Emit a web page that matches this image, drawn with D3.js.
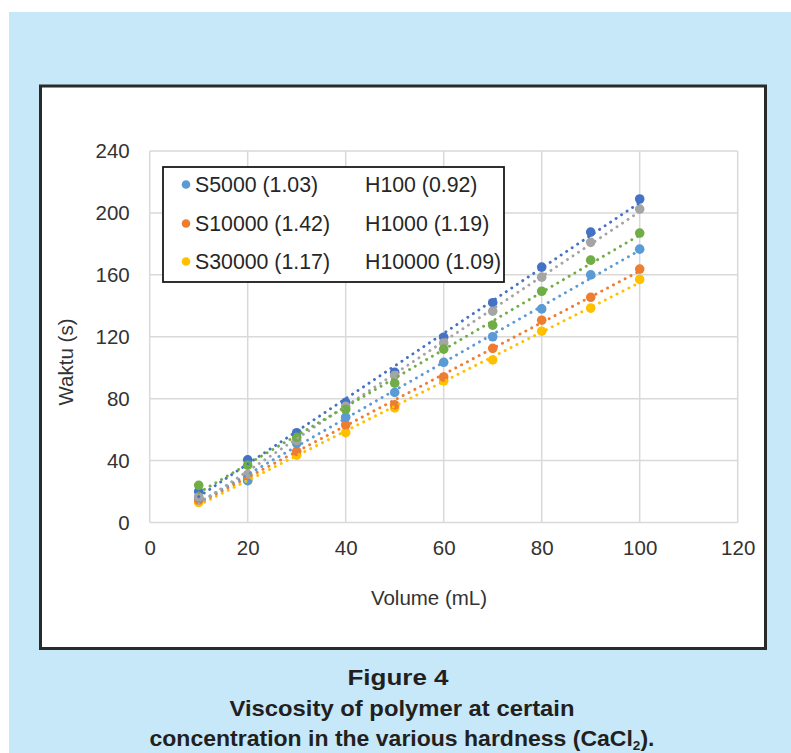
<!DOCTYPE html>
<html>
<head>
<meta charset="utf-8">
<script src="https://cdn.jsdelivr.net/npm/d3@7"></script>
<style>
html,body{margin:0;padding:0;background:#fff;}
svg{display:block;font-family:"Liberation Sans",Arial,sans-serif;}
</style>
</head>
<body>
<svg id="chart" width="791" height="753"></svg>
<script>
const volume = [10, 20, 30, 40, 50, 60, 70, 80, 90, 100];
const s5000  = [16, 27, 51, 68, 84, 103.5, 120, 138, 160, 176.6];
const s10000 = [14.5, 29, 46, 63, 76, 94, 112.5, 130.7, 145.5, 163.7];
const s30000 = [13, 27, 43.5, 58, 74, 91.5, 105, 123.6, 138.5, 157];
const h100   = [16.5, 31, 53, 75, 95, 116, 136.5, 158.5, 181, 202.5];
const h1000  = [20, 40.5, 58, 77.6, 97, 119.7, 142, 165, 187.6, 209];
const h10000 = [24, 37, 55, 73, 90, 112, 127.5, 149.4, 169.5, 187];

const seriesNames = ["S30000 (1.17)", "S10000 (1.42)", "S5000 (1.03)", "H1000 (1.19)", "H100 (0.92)", "H10000 (1.09)"];
const seriesValues = [s30000, s10000, s5000, h1000, h100, h10000];
const seriesColors = ["#FFC000", "#ED7D31", "#5B9BD5", "#4472C4", "#A5A5A5", "#70AD47"];

const legendLeft = ["S5000 (1.03)", "S10000 (1.42)", "S30000 (1.17)"];
const legendLeftColors = ["#5B9BD5", "#ED7D31", "#FFC000"];
const legendRight = ["H100 (0.92)", "H1000 (1.19)", "H10000 (1.09)"];

const xTicks = [0, 20, 40, 60, 80, 100, 120];
const yTicks = [0, 40, 80, 120, 160, 200, 240];

const captionLines = ["Figure 4", "Viscosity of polymer at certain"];

const svg = d3.select("#chart");

// background panel
svg.append("rect").attr("x", 9).attr("y", 12).attr("width", 791 - 9).attr("height", 753 - 12).attr("fill", "#C6E8F9");
svg.append("rect").attr("x", 40.5).attr("y", 86).attr("width", 725).attr("height", 562.5)
  .attr("fill", "#fff").attr("stroke", "#2a2a2a").attr("stroke-width", 3);

const x = d3.scaleLinear().domain([0, 120]).range([149.7, 737.7]);
const y = d3.scaleLinear().domain([0, 240]).range([522.5, 151]);

// gridlines
const g = svg.append("g");
g.selectAll(".vg").data(xTicks).join("line")
  .attr("x1", d => x(d)).attr("x2", d => x(d)).attr("y1", y(240)).attr("y2", y(0))
  .attr("stroke", "#D9D9D9").attr("stroke-width", 1.5);
g.selectAll(".hg").data(yTicks).join("line")
  .attr("x1", x(0)).attr("x2", x(120)).attr("y1", d => y(d)).attr("y2", d => y(d))
  .attr("stroke", "#D9D9D9").attr("stroke-width", 1.5);

// axes
const xAxis = d3.axisBottom(x).tickValues(xTicks).tickSize(0).tickPadding(18);
const yAxis = d3.axisLeft(y).tickValues(yTicks).tickSize(0).tickPadding(20);
const gx = svg.append("g").attr("transform", `translate(0,${y(0)})`).call(xAxis);
const gy = svg.append("g").attr("transform", `translate(${x(0)},0)`).call(yAxis);
[gx, gy].forEach(a => {
  a.select(".domain").remove();
  a.selectAll("text").attr("font-size", 20.5).attr("fill", "#333333").attr("font-family", '"Liberation Sans",Arial,sans-serif');
});

// axis titles
svg.append("text").attr("x", x(57)).attr("y", 605).attr("text-anchor", "middle")
  .attr("font-size", 20.5).attr("fill", "#333333").text("Volume (mL)");
svg.append("text").attr("transform", "translate(73,362) rotate(-90)").attr("text-anchor", "middle")
  .attr("font-size", 20.5).attr("fill", "#333333").text("Waktu (s)");

// trendlines (least squares fit of each series)
function fit(xs, ys) {
  const mx = d3.mean(xs), my = d3.mean(ys);
  let sxy = 0, sxx = 0;
  xs.forEach((v, i) => { sxy += (v - mx) * (ys[i] - my); sxx += (v - mx) * (v - mx); });
  const b = sxy / sxx;
  return { a: my - b * mx, b };
}
const xMin = d3.min(volume), xMax = d3.max(volume);

seriesValues.forEach((vals, si) => {
  const col = seriesColors[si];
  svg.append("g").selectAll("circle").data(vals).join("circle")
    .attr("cx", (d, i) => x(volume[i])).attr("cy", d => y(d)).attr("r", 4.8)
    .attr("fill", col);
});
seriesValues.forEach((vals, si) => {
  const col = seriesColors[si];
  const f = fit(volume, vals);
  svg.append("line")
    .attr("x1", x(xMin)).attr("y1", y(f.a + f.b * xMin))
    .attr("x2", x(xMax)).attr("y2", y(f.a + f.b * xMax))
    .attr("stroke", col).attr("stroke-width", 2.9)
    .attr("stroke-linecap", "round").attr("stroke-dasharray", "0.1 6.5");
});

// legend
const lg = svg.append("g");
lg.append("rect").attr("x", 163).attr("y", 167).attr("width", 341).attr("height", 115)
  .attr("fill", "#fff").attr("stroke", "#1a1a1a").attr("stroke-width", 1.8);
const rowY = [184.5, 223.5, 261.5];
legendLeft.forEach((t, i) => {
  lg.append("circle").attr("cx", 186).attr("cy", rowY[i]).attr("r", 4.3).attr("fill", legendLeftColors[i]);
  lg.append("text").attr("x", 195).attr("y", rowY[i]).attr("dy", "0.35em")
    .attr("font-size", 21.3).attr("fill", "#262626").text(t);
});
legendRight.forEach((t, i) => {
  lg.append("text").attr("x", 365).attr("y", rowY[i]).attr("dy", "0.35em")
    .attr("font-size", 21.3).attr("fill", "#262626").text(t);
});

// caption
const cap = svg.append("g").attr("font-weight", "bold").attr("font-size", 22).attr("fill", "#231F20").attr("text-anchor", "middle");
cap.append("text").attr("x", 398).attr("y", 685).attr("textLength", 101).attr("lengthAdjust", "spacingAndGlyphs").text(captionLines[0]);
cap.append("text").attr("x", 402).attr("y", 716).attr("textLength", 345).attr("lengthAdjust", "spacingAndGlyphs").text(captionLines[1]);
const l3 = cap.append("text").attr("x", 402).attr("y", 746).attr("textLength", 505).attr("lengthAdjust", "spacingAndGlyphs");
l3.append("tspan").text("concentration in the various hardness (CaCl");
l3.append("tspan").attr("font-size", 13).attr("dy", 4).text("2");
l3.append("tspan").attr("dy", -4).text(").");
</script>
</body>
</html>
